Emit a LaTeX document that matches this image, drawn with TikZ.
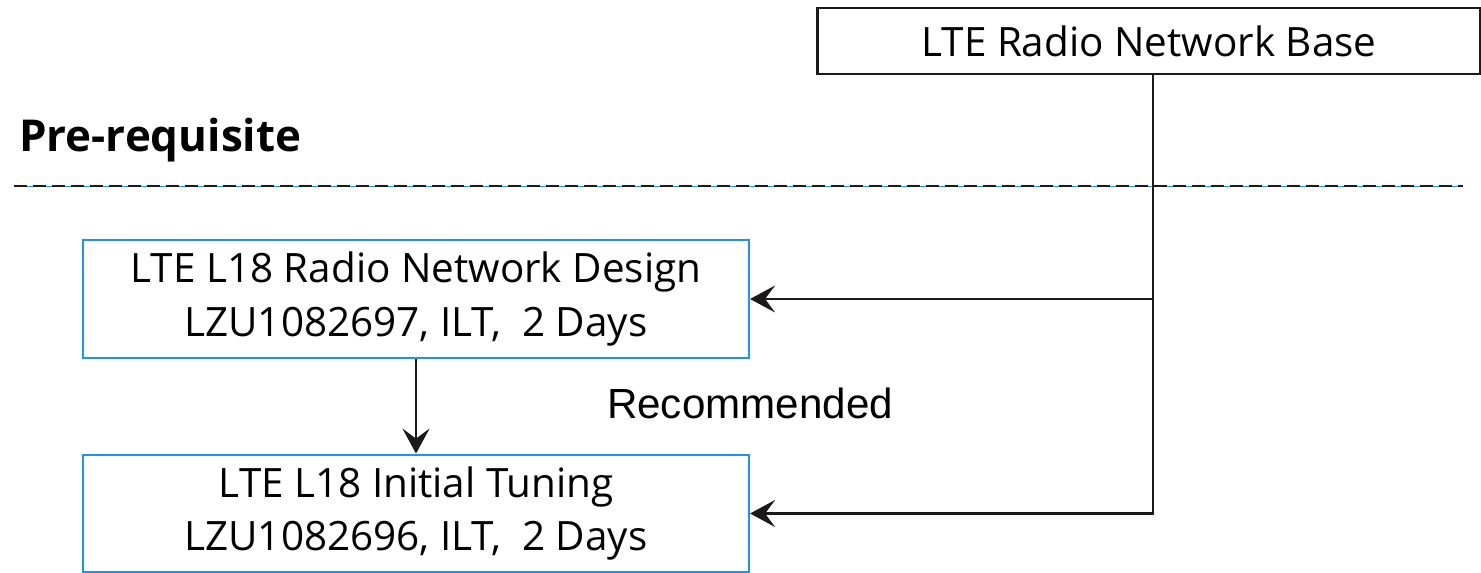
\documentclass[tikz,border=0pt]{standalone}
\usepackage{fontspec}
\setmainfont{Open Sans}
\newfontfamily\arialfont{Liberation Sans}
\usepackage{tikz}
\usetikzlibrary{arrows.meta, positioning}
\definecolor{coursecolor}{RGB}{30,144,255}
\definecolor{linecolor}{RGB}{26,26,26}

\begin{document}
\begin{tikzpicture}[
    x=0.02cm, y=-0.02cm,
    box/.style={draw=linecolor, line width=1.3pt, minimum width=13.26cm, minimum height=1.32cm, align=center, font=\fontsize{23}{30.5}\selectfont, inner sep=0pt},
    course/.style={draw=coursecolor, line width=1.3pt, minimum width=13.32cm, minimum height=2.35cm, align=center, font=\fontsize{23}{30.5}\selectfont, inner sep=0pt},
    arrow/.style={-{Stealth[length=5mm, width=5.4mm, inset=2mm]}, line width=1.3pt, draw=linecolor}
]
    \useasboundingbox (0,0) rectangle (1481,573);

    % Base course
    \node[box] (base) at (1149,41) {LTE Radio Network Base};

    % Pre-requisite separator
    \node[font=\fontsize{25}{30}\selectfont\bfseries, anchor=west] (prereq) at (13,140) {Pre-requisite};
    \draw[coursecolor, line width=0.5pt] (14,186) -- (1463,186);
    \draw[linecolor, line width=1.3pt, dash pattern=on 0.26cm off 0.12cm] (14,186) -- (1463,186);

    % Courses
    \node[course] (design) at (416,299) {LTE L18 Radio Network Design\\LZU1082697, ILT,\ \ 2 Days};
    \node[course] (tuning) at (416,513.5) {LTE L18 Initial Tuning\\LZU1082696, ILT,\ \ 2 Days};
    \node[font=\arialfont\fontsize{24}{28}\selectfont] (recommended) at (750,403) {Recommended};

    % Arrows
    \coordinate (split) at (1153,299);
    \coordinate (corner) at (1153,513.5);
    \draw[arrow] (base.south -| corner) -- (corner) -- (tuning.east);
    \draw[arrow] (split) -- (design.east);
    \draw[arrow] (design) -- (tuning);
\end{tikzpicture}
\end{document}
